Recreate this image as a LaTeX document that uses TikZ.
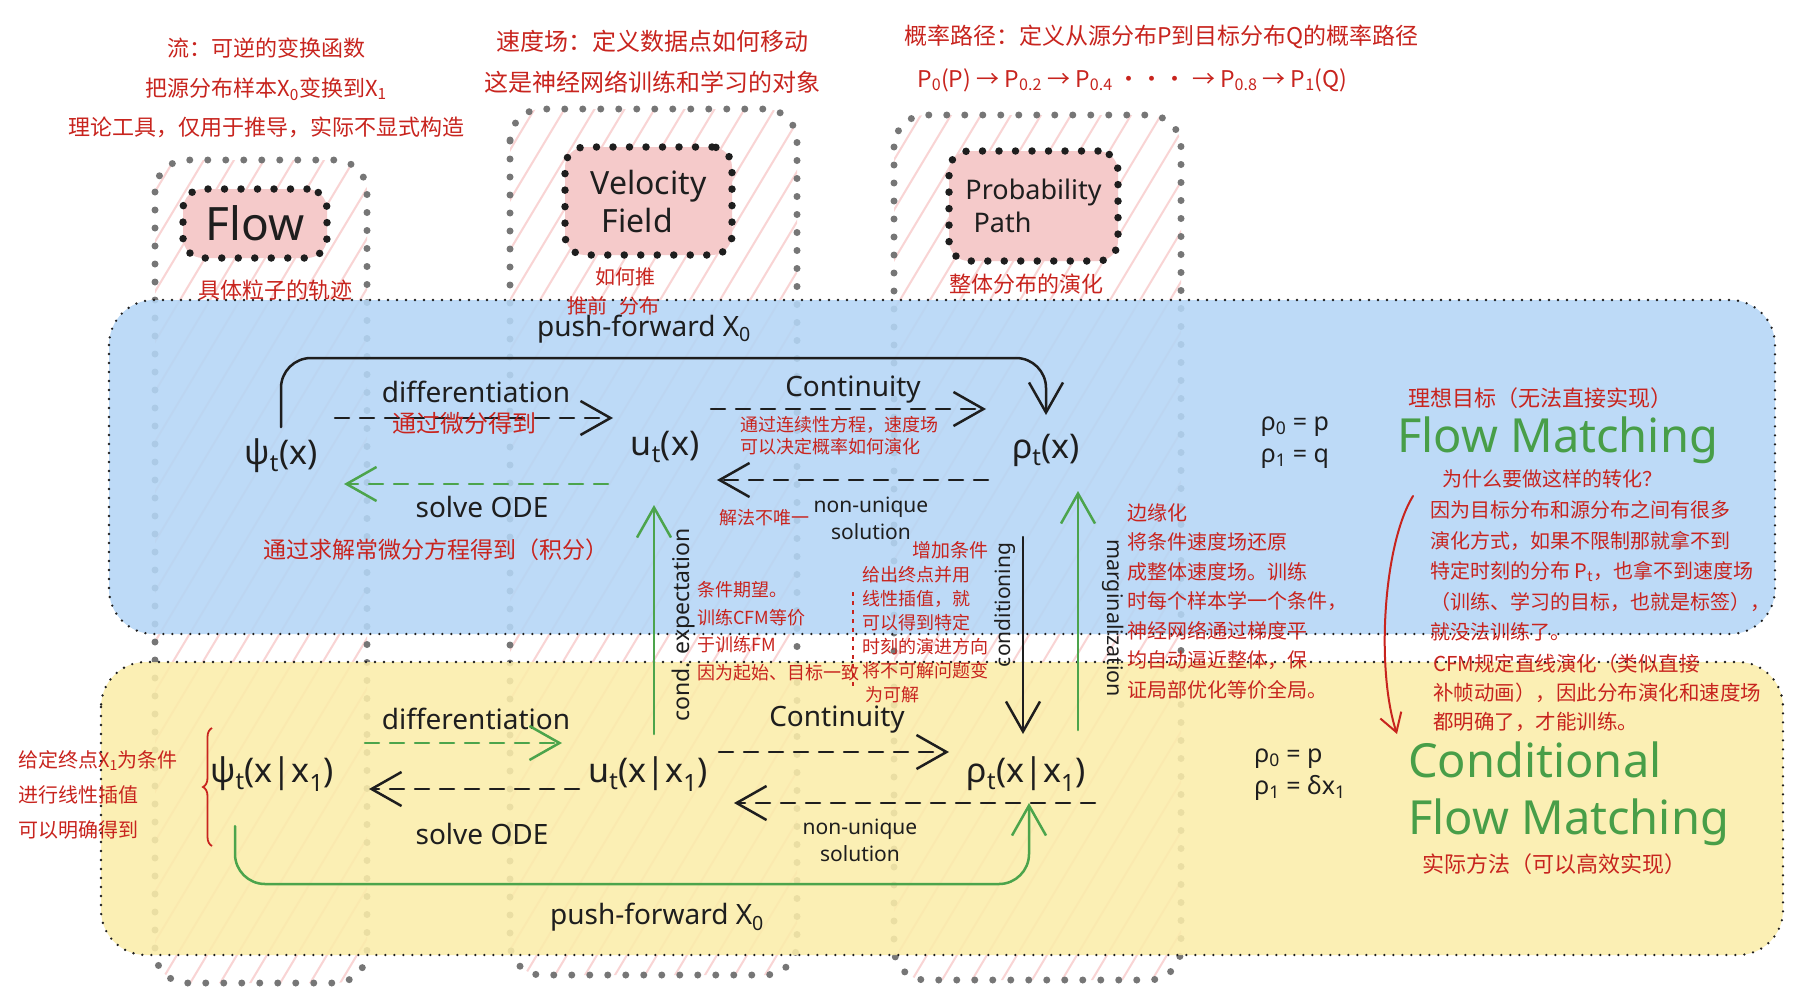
\documentclass[tikz,border=0pt]{standalone}
\usepackage{fontspec}
\setmainfont{Noto Sans}
\newfontfamily\cjk{Noto Sans CJK SC}
\usetikzlibrary{arrows.meta,decorations.pathreplacing,calc}
\definecolor{bandblue}{RGB}{180,214,246}
\definecolor{bandyellow}{RGB}{251,237,170}
\definecolor{pinkfill}{RGB}{245,202,202}
\definecolor{hatchpink}{RGB}{249,212,212}
\definecolor{colgray}{RGB}{118,118,118}
\definecolor{notered}{RGB}{200,36,30}
\definecolor{arrgreen}{RGB}{76,164,76}
\definecolor{txtgreen}{RGB}{72,158,72}
\definecolor{ink}{RGB}{30,30,30}
\newcommand{\myfs}[2]{\fontsize{#1}{#2}\selectfont}
\newcommand{\sbt}[1]{\textsubscript{#1}}
\begin{document}
\begin{tikzpicture}[x=1pt, y=-1pt,
 colbox/.style={draw=colgray, line width=7pt, dash pattern=on 0pt off 18pt, line cap=round, rounded corners=32pt},
 hatch/.style={draw=hatchpink, line width=2pt},
 pinkbox/.style={fill=pinkfill, draw=ink, line width=7.5pt, dash pattern=on 0pt off 16.5pt, line cap=round, rounded corners=20pt, inner sep=0pt, text=ink},
 band/.style={draw=ink, line width=2.6pt, dash pattern=on 0pt off 9pt, line cap=round, rounded corners=45pt, fill opacity=0.88},
 lbl/.style={font=\myfs{28}{33}, text=ink, inner sep=0pt, align=center},
 sml/.style={font=\myfs{21}{27}, text=ink, inner sep=0pt, align=center},
 vlbl/.style={font=\myfs{22}{26}, text=ink, inner sep=0pt},
 mathn/.style={font=\myfs{34}{40}, text=ink, inner sep=2pt},
 eqn/.style={font=\myfs{25}{32}, text=ink, inner sep=0pt, align=left},
 note/.style={text=notered, inner sep=0pt, align=left},
 big/.style={font=\myfs{47}{52}, text=txtgreen, inner sep=0pt},
 arr/.style={line width=2.5pt, line cap=round, -{Straight Barb[length=30pt,width=34pt]}},
 dsh/.style={dash pattern=on 14pt off 11pt},
]
\useasboundingbox (0,0) rectangle (1798,990);
\fill[white] (0,0) rectangle (1798,990);

% ---------- columns with hatching ----------
\foreach \xa/\ya/\xb/\yb in {155/160/367/983, 510/109/797/975, 894/115/1181/980} {
  \begin{scope}
    \clip[rounded corners=32pt] (\xa,\ya) rectangle (\xb,\yb);
    \foreach \h in {-600,-570,...,1800} \draw[hatch] (\h,1000) -- (\h+600,0);
  \end{scope}
  \draw[colbox] (\xa,\ya) rectangle (\xb,\yb);
}

% ---------- concept boxes ----------
\node[pinkbox, minimum width=144pt, minimum height=69pt, font=\myfs{46}{50}] (flowbox) at (255,223.5) {Flow};
\node[pinkbox, minimum width=167pt, minimum height=108pt, font=\myfs{32}{38}, align=left] (velbox) at (648.5,201) {Velocity\\\hspace*{0.35em}Field};
\node[pinkbox, minimum width=169pt, minimum height=110pt, font=\myfs{27}{33}, align=left] (probbox) at (1033.5,206) {Probability\\\hspace*{0.3em}Path};

% ---------- bands ----------
\draw[band, fill=bandblue] (109,300) rectangle (1775,634);
\draw[band, fill=bandyellow] (101,662) rectangle (1783,955);

% ---------- top annotations ----------
\node[note, align=center, font=\cjk\myfs{22}{39.5}] (ann1) at (266,88) {流：可逆的变换函数\\把源分布样本X\sbt{0}变换到X\sbt{1}\\理论工具，仅用于推导，实际不显式构造};
\node[note, align=center, font=\cjk\myfs{24}{41}] (ann2) at (652,62) {速度场：定义数据点如何移动\\这是神经网络训练和学习的对象};
\node[note, anchor=west, font=\cjk\myfs{23}{28}] (ann3) at (904,37) {概率路径：定义从源分布P到目标分布Q的概率路径};
\node[note, anchor=west, font=\cjk\myfs{23}{28}] (ann4) at (917,80) {P\sbt{0}(P) → P\sbt{0.2} → P\sbt{0.4} ··· → P\sbt{0.8} → P\sbt{1}(Q)};
\node[note, font=\cjk\myfs{22}{26}] (ann5) at (275,290) {具体粒子的轨迹};
\node[note, font=\cjk\myfs{20}{26}] (ann6) at (625,277) {如何推};
\node[note, font=\cjk\myfs{20}{26}] (ann7) at (613,306) {推前\hspace{0.6em}分布};
\node[note, font=\cjk\myfs{22}{26}] (ann8) at (1026,284) {整体分布的演化};

% ---------- blue band: marginal quantities ----------
\node[mathn] (psi) at (281,456) {ψ\sbt{t}(x)};
\node[mathn] (u) at (665,447) {u\sbt{t}(x)};
\node[mathn] (rho) at (1046,450) {ρ\sbt{t}(x)};

\node[lbl] (pf1) at (644,329) {push-forward X\sbt{0}};
\node[lbl] (dif1) at (476,392) {differentiation};
\node[lbl] (con1) at (853,390) {Continuity};
\node[lbl] (ode1) at (482,507) {solve ODE};
\node[sml] (nu1) at (871,518) {non-unique\\solution};

\draw[arr, ink] ($(psi)+(0,-29)$) [rounded corners=30pt] |- ($(rho)+(0,-92)$) -- ($(rho)+(0,-35)$);
\draw[arr, dsh, ink] ($(psi)+(54,-38)$) -- ($(u)+(-52,-29)$);
\draw[arr, dsh, arrgreen] ($(u)+(-57,37)$) -- ($(psi)+(63,28)$);
\draw[arr, dsh, ink] ($(u)+(46,-38)$) -- ($(rho)+(-60,-41)$);
\draw[arr, dsh, ink] ($(rho)+(-58,30)$) -- ($(u)+(52,33)$);

\node[note, font=\cjk\myfs{24}{28}] (n1) at (464,423) {通过微分得到};
\node[note, anchor=west, font=\cjk\myfs{18}{22}] (n2) at (740,436) {通过连续性方程，速度场\\可以决定概率如何演化};
\node[note, font=\cjk\myfs{18}{22}] (n3) at (764,518) {解法不唯一};
\node[note, font=\cjk\myfs{23}{28}] (n4) at (436,550) {通过求解常微分方程得到（积分）};

% ---------- yellow band: conditional quantities ----------
\node[mathn] (cpsi) at (272,774) {ψ\sbt{t}(x|x\sbt{1})};
\node[mathn] (cu) at (648,774) {u\sbt{t}(x|x\sbt{1})};
\node[mathn] (crho) at (1026,774) {ρ\sbt{t}(x|x\sbt{1})};

\node[lbl] (dif2) at (476,719) {differentiation};
\node[lbl] (ode2) at (482,834) {solve ODE};
\node[lbl] (con2) at (837,720) {Continuity};
\node[sml] (nu2) at (860,840) {non-unique\\solution};
\node[lbl] (pf2) at (657,917) {push-forward X\sbt{0}};

\draw[arr, dsh, arrgreen] ($(cpsi)+(93,-31)$) -- ($(cu)+(-86,-31)$);
\draw[arr, dsh, ink] ($(cu)+(-69,15)$) -- ($(cpsi)+(97,15)$);
\draw[arr, dsh, ink] ($(cu)+(71,-22)$) -- ($(crho)+(-77,-22)$);
\draw[arr, dsh, ink] ($(crho)+(69,29)$) -- ($(cu)+(86,29)$);
\draw[arr, arrgreen] ($(cpsi)+(-37,52)$) [rounded corners=30pt] |- ($(crho)+(3,110)$) -- ($(crho)+(3,29)$);

% ---------- vertical links ----------
\draw[arr, arrgreen] ($(cu)+(6,-40)$) -- ($(u)+(-11,58)$);
\draw[arr, ink] ($(rho)+(-23,87)$) -- ($(crho)+(-3,-40)$);
\draw[arr, arrgreen] ($(crho)+(52,-44)$) -- ($(rho)+(32,41)$);
\node[vlbl, rotate=90, font=\myfs{23}{26}] (ce) at (684,625) {cond. expectation};
\node[vlbl, rotate=90, font=\myfs{21}{26}] (cd) at (1005,605) {conditioning};
\node[vlbl, rotate=-90, font=\myfs{21.5}{26}] (mg) at (1113,618) {marginalization};

\node[note, anchor=west, font=\cjk\myfs{18}{27.5}] (n5) at (697,631) {条件期望。\\训练CFM等价\\于训练FM\\因为起始、目标一致};
\draw[notered, line width=1.5pt, dash pattern=on 4pt off 5pt] (853,592) -- (853,688);
\node[note, font=\cjk\myfs{19}{24}] (n6) at (950,550) {增加条件};
\node[note, anchor=west, font=\cjk\myfs{18}{24}] (n7) at (862,635) {给出终点并用\\线性插值，就\\可以得到特定\\时刻的演进方向\\将不可解问题变\\\hspace*{0.2em}为可解};
\node[note, anchor=west, font=\cjk\myfs{20}{29.5}] (n8) at (1127,601) {边缘化\\将条件速度场还原\\成整体速度场。训练\\时每个样本学一个条件，\\神经网络通过梯度平\\均自动逼近整体，保\\证局部优化等价全局。};

% ---------- right side ----------
\node[eqn] (eq1) at (1295,443) {ρ\sbt{0} = p\\ρ\sbt{1} = q};
\node[note, font=\cjk\myfs{22}{26}] (goal) at (1540,398) {理想目标（无法直接实现）};
\node[big, anchor=west] (fm) at (1397,440) {Flow Matching};
\node[note, font=\cjk\myfs{20}{24}] (why) at (1552,479) {为什么要做这样的转化？};
\node[note, anchor=west, font=\cjk\myfs{20}{30.5}] (n9) at (1430,571) {因为目标分布和源分布之间有很多\\演化方式，如果不限制那就拿不到\\特定时刻的分布 P\sbt{t}，也拿不到速度场\\（训练、学习的目标，也就是标签），\\就没法训练了。};
\node[note, anchor=west, font=\cjk\myfs{20.5}{29}] (n10) at (1433,693) {CFM规定直线演化（类似直接\\补帧动画），因此分布演化和速度场\\都明确了，才能训练。};

\node[eqn] (eq2) at (1300,775) {ρ\sbt{0} = p\\ρ\sbt{1} = δx\sbt{1}};
\node[big, anchor=west] (cfm1) at (1408,760) {Conditional};
\node[big, anchor=west] (cfm2) at (1408,822) {Flow Matching};
\node[note, font=\cjk\myfs{22}{26}] (real) at (1554,864) {实际方法（可以高效实现）};

\coordinate (ra) at (1413,496);
\coordinate (rb) at (1397,734);
\draw[notered, line width=2pt, line cap=round, -{Straight Barb[length=18pt,width=22pt]}] (ra) .. controls (1383,545) and (1376,670) .. (rb);

% ---------- left annotation ----------
\node[note, anchor=west, font=\cjk\myfs{20}{35}] (n11) at (18,795) {给定终点X\sbt{1}为条件\\进行线性插值\\可以明确得到};
\draw[notered, line width=1.8pt, decorate, decoration={brace, amplitude=9pt}] (212,846) -- (212,728);
\end{tikzpicture}
\end{document}
